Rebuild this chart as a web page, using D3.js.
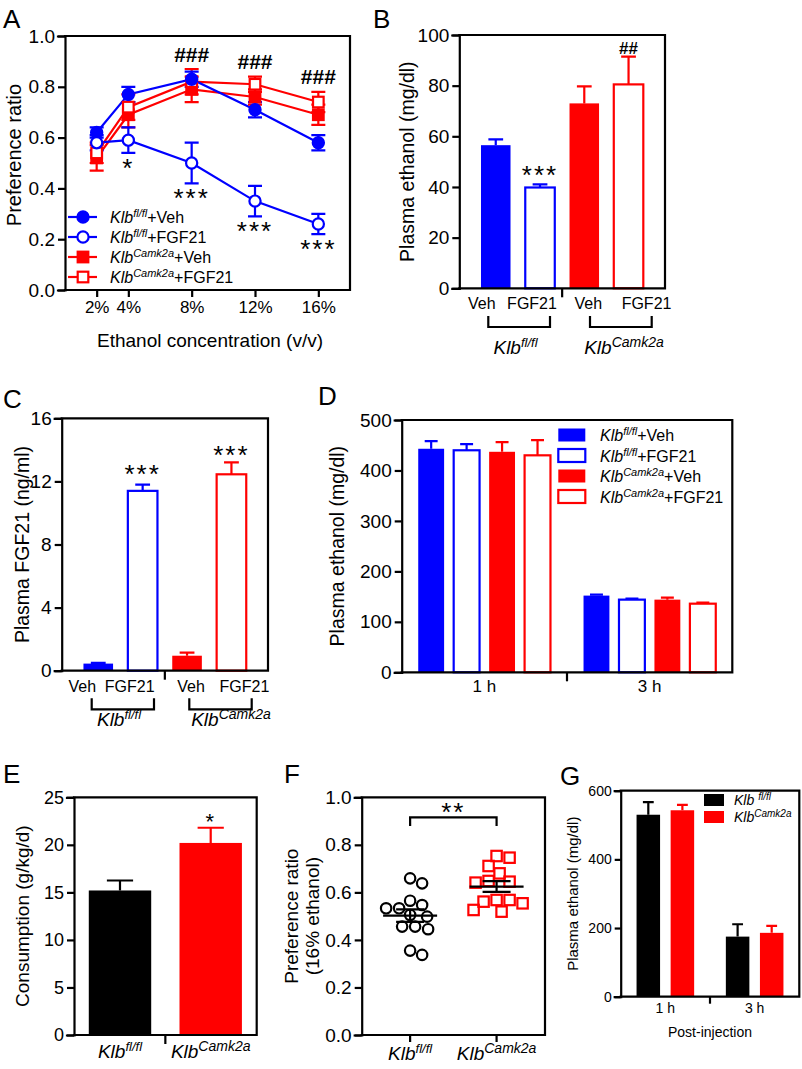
<!DOCTYPE html>
<html><head><meta charset="utf-8">
<script src="https://cdn.jsdelivr.net/npm/d3@7"></script>
<style>
body{margin:0;background:#fff}
svg{display:block;font-family:"Liberation Sans",Arial,Helvetica,sans-serif}
</style></head><body><svg id="fig" width="802" height="1069"></svg>
<script>
// ---------------- DATA ----------------
// Panel A
const concentrations = [2, 4, 8, 12, 16];
const concTickLabels = ["2%", "4%", "8%", "12%", "16%"];
const prefFlVeh = [0.62, 0.77, 0.83, 0.71, 0.58];
const prefFlVehErr = [0.02, 0.03, 0.03, 0.03, 0.03];
const prefFlFgf = [0.58, 0.59, 0.50, 0.35, 0.26];
const prefFlFgfErr = [0.03, 0.05, 0.08, 0.06, 0.04];
const prefCaVeh = [0.52, 0.69, 0.79, 0.76, 0.69];
const prefCaVehErr = [0.05, 0.05, 0.05, 0.03, 0.04];
const prefCaFgf = [0.54, 0.72, 0.82, 0.81, 0.74];
const prefCaFgfErr = [0.04, 0.05, 0.05, 0.03, 0.04];
const prefStars = ["", "*", "***", "***", "***"];
const prefHashes = ["", "", "###", "###", "###"];
const prefYTicks = [0, 0.2, 0.4, 0.6, 0.8, 1.0];
// Panel B
const treatments = ["Veh", "FGF21", "Veh", "FGF21"];
const plasmaEtoh = [56.5, 39.8, 73.0, 80.5];
const plasmaEtohErr = [2.3, 1.2, 6.7, 11.0];
const plasmaEtohSig = ["", "***", "", "##"];
const plasmaEtohTicks = [0, 20, 40, 60, 80, 100];
// Panel C
const plasmaFgf21 = [0.45, 11.4, 0.95, 12.45];
const plasmaFgf21Err = [0.05, 0.4, 0.2, 0.75];
const plasmaFgf21Sig = ["", "***", "", "***"];
const plasmaFgf21Ticks = [0, 4, 8, 12, 16];
// Panel D
const timepoints = ["1 h", "3 h"];
const etohFlVeh = [443, 152];
const etohFlVehErr = [15, 2];
const etohFlFgf = [440, 144];
const etohFlFgfErr = [12, 2];
const etohCaVeh = [437, 144];
const etohCaVehErr = [19, 4];
const etohCaFgf = [430, 136];
const etohCaFgfErr = [30, 2];
const etohDTicks = [0, 100, 200, 300, 400, 500];
// Panel E
const genotypes = ["fl/fl", "Camk2a"];
const consumption = [15.2, 20.2];
const consumptionErr = [1.05, 1.6];
const consumptionSig = ["", "*"];
const consumptionTicks = [0, 5, 10, 15, 20, 25];
// Panel F
const pref16Fl = [0.659, 0.638, 0.565, 0.533, 0.533, 0.547, 0.505, 0.498, 0.456, 0.445, 0.456, 0.337, 0.355];
const pref16Ca = [0.753, 0.746, 0.711, 0.680, 0.645, 0.641, 0.648, 0.568, 0.554, 0.519, 0.526, 0.561, 0.568];
const pref16Ticks = [0, 0.2, 0.4, 0.6, 0.8, 1.0];
// Panel G
const etohGFl = [530, 175];
const etohGFlErr = [37, 36];
const etohGCa = [543, 186];
const etohGCaErr = [16, 20];
const etohGTicks = [0, 200, 400, 600];

// ---------------- HELPERS ----------------
const BLUE = "#0000ff", RED = "#ff0000", BLACK = "#000000";
const AX = 2.2;
const svg = d3.select("#fig");
svg.append("rect").attr("width", 802).attr("height", 1069).attr("fill", "#fff");

function yAxis(g, y, x0, ticks, fmt, fs, tl = 7) {
  const a = g.append("g").attr("transform", `translate(${x0},0)`)
    .call(d3.axisLeft(y).tickValues(ticks).tickFormat(fmt).tickSizeOuter(0).tickSize(tl).tickPadding(3));
  a.attr("font-family", null).attr("font-size", null);
  a.select(".domain").attr("stroke", "#000").attr("stroke-width", AX).attr("stroke-linecap", "square");
  a.selectAll(".tick line").attr("stroke", "#000").attr("stroke-width", AX);
  a.selectAll(".tick text").attr("fill", "#000").style("font-size", fs + "px");
  return a;
}
function frame(g, x0, x1, y0, y1) {
  g.append("path").attr("d", `M${x0},${y1}H${x1}V${y0}H${x0}`)
    .attr("fill", "none").attr("stroke", "#000").attr("stroke-width", AX).attr("stroke-linecap", "square");
}
function vtick(g, x, y, len) {
  g.append("line").attr("x1", x).attr("x2", x).attr("y1", y).attr("y2", y + len)
    .attr("stroke", "#000").attr("stroke-width", AX);
}
function panelLabel(x, y, t) {
  svg.append("text").attr("x", x).attr("y", y).style("font-size", "26px").text(t);
}
function yTitle(g, x, y, t, fs) {
  g.append("text").attr("transform", `translate(${x},${y}) rotate(-90)`)
    .attr("text-anchor", "middle").attr("dy", "0.35em").style("font-size", fs + "px").text(t);
}
function gene(g, x, y, o) {
  const t = g.append("text").attr("x", x).attr("y", y)
    .attr("text-anchor", o.anchor || "start").style("font-size", o.fs + "px");
  t.append("tspan").style("font-style", "italic").text("Klb" + (o.space ? " " : ""));
  const sh = Math.round(o.fs * 0.38);
  t.append("tspan").style("font-style", "italic").style("font-size", o.sfs + "px").attr("dy", -sh).text(o.sup);
  if (o.suffix) t.append("tspan").attr("dy", sh).text(o.suffix);
  return t;
}
function errUp(g, xc, y1, y2, capW, color) {
  g.append("path").attr("d", `M${xc},${y1}V${y2}M${xc - capW / 2},${y2}H${xc + capW / 2}`)
    .attr("fill", "none").attr("stroke", color).attr("stroke-width", AX);
}
function bar(g, x, w, y0, y1, color, filled) {
  g.append("rect").attr("x", x).attr("width", w).attr("y", y1).attr("height", y0 - y1)
    .attr("fill", filled ? color : "#fff").attr("stroke", filled ? "none" : color).attr("stroke-width", AX);
}
function sig(g, x, yc, t, fs, bold) {
  const hash = t.indexOf("#") >= 0;
  g.append("text").attr("x", x).attr("y", yc).attr("text-anchor", "middle")
    .attr("dy", hash ? "0.36em" : (0.58 * fs) + "px")
    .style("font-size", fs + "px").style("font-weight", bold ? "bold" : "normal")
    .style("letter-spacing", hash ? "0px" : "2px").text(t);
}
function marker(g, shape, filled, color, x, y) {
  if (shape === "circle") {
    g.append("circle").attr("cx", x).attr("cy", y).attr("r", 5.6)
      .attr("fill", filled ? color : "#fff").attr("stroke", color).attr("stroke-width", AX);
  } else {
    g.append("rect").attr("x", x - 5.3).attr("y", y - 5.3).attr("width", 10.6).attr("height", 10.6)
      .attr("fill", filled ? color : "#fff").attr("stroke", color).attr("stroke-width", AX);
  }
}

// ---------------- PANEL A ----------------
(function () {
  const g = svg.append("g");
  const x = d3.scaleLinear([0, 18], [65, 350]);
  const y = d3.scaleLinear([0, 1], [290, 36]);
  frame(g, 65, 350, 36, 290);
  yAxis(g, y, 65, prefYTicks, d3.format(".1f"), 19);
  const xa = g.append("g").attr("transform", "translate(0,290)")
    .call(d3.axisBottom(x).tickValues(concentrations).tickFormat((d, i) => concTickLabels[i]).tickSize(7).tickSizeOuter(0).tickPadding(4));
  xa.attr("font-family", null).attr("font-size", null);
  xa.select(".domain").remove();
  xa.selectAll(".tick line").attr("stroke", "#000").attr("stroke-width", AX);
  xa.selectAll(".tick text").attr("fill", "#000").style("font-size", "17px");
  g.append("text").attr("x", 210).attr("y", 347).attr("text-anchor", "middle").style("font-size", "19px")
    .text("Ethanol concentration (v/v)");
  yTitle(g, 14, 155, "Preference ratio", 20);

  const series = [
    { v: prefCaVeh, e: prefCaVehErr, c: RED, s: "square", f: true },
    { v: prefCaFgf, e: prefCaFgfErr, c: RED, s: "square", f: false },
    { v: prefFlVeh, e: prefFlVehErr, c: BLUE, s: "circle", f: true },
    { v: prefFlFgf, e: prefFlFgfErr, c: BLUE, s: "circle", f: false }
  ];
  const line = d3.line().x((d, i) => x(concentrations[i])).y(d => y(d));
  series.forEach(s => {
    g.append("path").attr("d", line(s.v)).attr("fill", "none").attr("stroke", s.c).attr("stroke-width", AX);
  });
  series.forEach(s => {
    s.v.forEach((v, i) => {
      const cx = x(concentrations[i]);
      g.append("path").attr("d", `M${cx},${y(v - s.e[i])}V${y(v + s.e[i])}M${cx - 7},${y(v - s.e[i])}H${cx + 7}M${cx - 7},${y(v + s.e[i])}H${cx + 7}`)
        .attr("fill", "none").attr("stroke", s.c).attr("stroke-width", AX);
    });
  });
  series.forEach(s => s.v.forEach((v, i) => marker(g, s.s, s.f, s.c, x(concentrations[i]), y(v))));

  // significance
  concentrations.forEach((c, i) => {
    if (prefStars[i]) sig(g, x(c), y(prefFlFgf[i] - prefFlFgfErr[i]) + 9, prefStars[i], 26, false);
    if (prefHashes[i]) {
      const top = d3.max(series, s => s.v[i] + s.e[i]);
      sig(g, x(c), y(top) - 15, prefHashes[i], 21, true);
    }
  });

  // legend
  const leg = [
    { c: BLUE, s: "circle", f: true, sup: "fl/fl", suf: "+Veh" },
    { c: BLUE, s: "circle", f: false, sup: "fl/fl", suf: "+FGF21" },
    { c: RED, s: "square", f: true, sup: "Camk2a", suf: "+Veh" },
    { c: RED, s: "square", f: false, sup: "Camk2a", suf: "+FGF21" }
  ];
  leg.forEach((l, i) => {
    const yy = 217 + i * 20;
    g.append("line").attr("x1", 68).attr("x2", 97).attr("y1", yy).attr("y2", yy).attr("stroke", l.c).attr("stroke-width", AX);
    marker(g, l.s, l.f, l.c, 83, yy);
    gene(g, 110, yy + 6, { sup: l.sup, suffix: l.suf, fs: 16, sfs: 11 });
  });
  panelLabel(3, 28, "A");
})();

// ---------------- PANEL B & C (4 bars, grouped labels) ----------------
function fourBar(cfg) {
  const g = svg.append("g");
  const x = d3.scaleBand([0, 1, 2, 3], [cfg.x0, cfg.x1]).paddingInner(0.333).paddingOuter(0.49);
  const y = d3.scaleLinear(cfg.dom, [cfg.yb, cfg.yt]);
  const cols = [BLUE, BLUE, RED, RED], fills = [true, false, true, false];
  cfg.vals.forEach((v, i) => {
    bar(g, x(i), x.bandwidth(), y(0), y(v), cols[i], fills[i]);
    errUp(g, x(i) + x.bandwidth() / 2, y(v), y(v + cfg.err[i]), x.bandwidth() * 0.5, cols[i]);
    if (cfg.sig[i]) sig(g, x(i) + x.bandwidth() / 2, y(v + cfg.err[i]) - cfg.sigGap[i], cfg.sig[i], cfg.sig[i][0] === "#" ? 17 : 26, cfg.sig[i][0] === "#");
  });
  frame(g, cfg.x0, cfg.x1, cfg.yt, cfg.yb);
  yAxis(g, y, cfg.x0, cfg.ticks, d3.format("d"), 19);
  vtick(g, (cfg.x0 + cfg.x1) / 2, cfg.yb, 9);
  treatments.forEach((t, i) => {
    g.append("text").attr("x", x(i) + x.bandwidth() / 2 + cfg.labOff[i]).attr("y", cfg.yb + 21)
      .attr("text-anchor", "middle").style("font-size", "16px").text(t);
  });
  cfg.brackets.forEach((b, i) => {
    g.append("path").attr("d", `M${b[0]},${cfg.brY}V${cfg.brY + 11}H${b[1]}V${cfg.brY}`)
      .attr("fill", "none").attr("stroke", "#000").attr("stroke-width", AX);
    gene(g, cfg.gx[i], cfg.gy, { sup: i === 0 ? "fl/fl" : "Camk2a", fs: 19, sfs: i === 0 ? 13 : 14, anchor: "middle" });
  });
  yTitle(g, cfg.titleX, (cfg.yt + cfg.yb) / 2, cfg.title, 19.5);
}
fourBar({ x0: 459.3, x1: 665, yt: 35, yb: 288.3, dom: [0, 100], ticks: plasmaEtohTicks,
  vals: plasmaEtoh, err: plasmaEtohErr, sig: plasmaEtohSig, sigGap: [0, 16, 0, 9],
  labOff: [-14, -8, 4, 18], brackets: [[488.3, 550], [590, 651.7]], brY: 316,
  gx: [515.5, 624], gy: 354, titleX: 407, title: "Plasma ethanol (mg/dl)" });
panelLabel(373, 28, "B");
fourBar({ x0: 61.7, x1: 268, yt: 418.3, yb: 670.7, dom: [0, 16], ticks: plasmaFgf21Ticks,
  vals: plasmaFgf21, err: plasmaFgf21Err, sig: plasmaFgf21Sig, sigGap: [0, 17, 0, 14],
  labOff: [-16, -13, 4, 13], brackets: [[91.7, 154], [189.3, 251.7]], brY: 698.3,
  gx: [119, 231], gy: 726, titleX: 22, title: "Plasma FGF21 (ng/ml)" });
panelLabel(3, 408, "C");

// ---------------- PANEL D ----------------
(function () {
  const g = svg.append("g");
  const x0 = 401.7, x1 = 732.3, yt = 420, yb = 672.3;
  const gx = d3.scaleBand(timepoints, [x0, x1]).paddingInner(0.2).paddingOuter(0.1);
  const series = [
    { v: etohFlVeh, e: etohFlVehErr, c: BLUE, f: true, sup: "fl/fl", suf: "+Veh" },
    { v: etohFlFgf, e: etohFlFgfErr, c: BLUE, f: false, sup: "fl/fl", suf: "+FGF21" },
    { v: etohCaVeh, e: etohCaVehErr, c: RED, f: true, sup: "Camk2a", suf: "+Veh" },
    { v: etohCaFgf, e: etohCaFgfErr, c: RED, f: false, sup: "Camk2a", suf: "+FGF21" }
  ];
  const sx = d3.scaleBand(d3.range(4), [0, gx.bandwidth()]).paddingInner(0.27);
  const y = d3.scaleLinear([0, 500], [yb, yt]);
  timepoints.forEach((t, ti) => {
    series.forEach((s, si) => {
      const bx = gx(t) + sx(si);
      bar(g, bx, sx.bandwidth(), y(0), y(s.v[ti]), s.c, s.f);
      errUp(g, bx + sx.bandwidth() / 2, y(s.v[ti]), y(s.v[ti] + s.e[ti]), sx.bandwidth() * 0.5, s.c);
    });
    g.append("text").attr("x", gx(t) + gx.bandwidth() / 2).attr("y", yb + 20).attr("text-anchor", "middle")
      .style("font-size", "17px").text(t);
  });
  frame(g, x0, x1, yt, yb);
  yAxis(g, y, x0, etohDTicks, d3.format("d"), 19);
  vtick(g, (x0 + x1) / 2, yb, 9);
  yTitle(g, 337, (yt + yb) / 2, "Plasma ethanol (mg/dl)", 19.5);
  series.forEach((s, i) => {
    const yy = 435 + i * 20.5;
    g.append("rect").attr("x", 558.3).attr("y", yy - 6.5).attr("width", 27).attr("height", 13)
      .attr("fill", s.f ? s.c : "#fff").attr("stroke", s.f ? "none" : s.c).attr("stroke-width", AX);
    gene(g, 600, yy + 6, { sup: s.sup, suffix: s.suf, fs: 16, sfs: 11 });
  });
  panelLabel(318, 405, "D");
})();

// ---------------- PANEL E ----------------
(function () {
  const g = svg.append("g");
  const x0 = 74, x1 = 256.7, yt = 797.3, yb = 1035;
  const x = d3.scaleBand(genotypes, [x0, x1]).paddingInner(0.312).paddingOuter(0.163);
  const y = d3.scaleLinear([0, 25], [yb, yt]);
  const cols = [BLACK, RED];
  genotypes.forEach((gt, i) => {
    bar(g, x(gt), x.bandwidth(), y(0), y(consumption[i]), cols[i], true);
    errUp(g, x(gt) + x.bandwidth() / 2, y(consumption[i]), y(consumption[i] + consumptionErr[i]), x.bandwidth() * 0.42, cols[i]);
    if (consumptionSig[i]) sig(g, x(gt) + x.bandwidth() / 2, y(consumption[i] + consumptionErr[i]) - 11, consumptionSig[i], 22, false);
    gene(g, x(gt) + x.bandwidth() / 2, 1058, { sup: gt, fs: 19, sfs: i === 0 ? 13 : 14, anchor: "middle" });
  });
  frame(g, x0, x1, yt, yb);
  yAxis(g, y, x0, consumptionTicks, d3.format("d"), 18);
  vtick(g, (x0 + x1) / 2, yb, 9);
  yTitle(g, 22, (yt + yb) / 2, "Consumption (g/kg/d)", 19);
  panelLabel(3, 783, "E");
})();

// ---------------- PANEL F ----------------
(function () {
  const g = svg.append("g");
  const x0 = 361.7, x1 = 545, yt = 797.3, yb = 1035;
  const x = d3.scalePoint(genotypes, [x0, x1]).padding(0.56);
  const y = d3.scaleLinear([0, 1], [yb, yt]);
  frame(g, x0, x1, yt, yb);
  yAxis(g, y, x0, pref16Ticks, d3.format(".1f"), 19);
  genotypes.forEach((gt, i) => {
    vtick(g, x(gt), yb, 7);
    gene(g, x(gt), 1060, { sup: gt, fs: 19, sfs: i === 0 ? 13 : 14, anchor: "middle" });
  });
  const r = 5.2;
  function swarm(vals, cx) {
    const pts = vals.map(v => ({ v, py: y(v) })).sort((a, b) => a.py - b.py);
    const placed = [];
    pts.forEach(p => {
      for (let k = 0; k < 400; k++) {
        const off = (k % 2 ? 1 : -1) * Math.ceil(k / 2);
        if (placed.every(q => Math.hypot(q.x - (cx + off), q.py - p.py) >= 2 * r + 2.2)) { p.x = cx + off; break; }
      }
      placed.push(p);
    });
    return placed;
  }
  const groups = [{ vals: pref16Fl, c: BLACK, s: "circle" }, { vals: pref16Ca, c: RED, s: "square" }];
  groups.forEach((gr, i) => {
    const cx = x(genotypes[i]);
    swarm(gr.vals, cx).forEach(p => {
      if (gr.s === "circle") g.append("circle").attr("cx", p.x).attr("cy", p.py).attr("r", r).attr("fill", "none").attr("stroke", gr.c).attr("stroke-width", AX);
      else g.append("rect").attr("x", p.x - r).attr("y", p.py - r).attr("width", 2 * r).attr("height", 2 * r).attr("fill", "none").attr("stroke", gr.c).attr("stroke-width", AX);
    });
    const m = d3.mean(gr.vals), se = d3.deviation(gr.vals) / Math.sqrt(gr.vals.length);
    g.append("path").attr("d", `M${cx - 27},${y(m)}H${cx + 27}M${cx - 14},${y(m + se)}H${cx + 14}M${cx - 14},${y(m - se)}H${cx + 14}M${cx},${y(m + se)}V${y(m - se)}`)
      .attr("fill", "none").attr("stroke", "#000").attr("stroke-width", AX);
  });
  const xa = x(genotypes[0]), xb = x(genotypes[1]);
  g.append("path").attr("d", `M${xa},826V817.3H${xb}V826`).attr("fill", "none").attr("stroke", "#000").attr("stroke-width", AX);
  sig(g, (xa + xb) / 2, 806, "**", 26, false);
  g.append("text").attr("transform", `translate(291,${(yt + yb) / 2}) rotate(-90)`).attr("text-anchor", "middle")
    .attr("dy", "0.35em").style("font-size", "19px").text("Preference ratio");
  g.append("text").attr("transform", `translate(312,${(yt + yb) / 2}) rotate(-90)`).attr("text-anchor", "middle")
    .attr("dy", "0.35em").style("font-size", "19px").text("(16% ethanol)");
  panelLabel(284, 783, "F");
})();

// ---------------- PANEL G ----------------
(function () {
  const g = svg.append("g");
  const x0 = 620.7, x1 = 799.3, yt = 790.7, yb = 996.7;
  const gx = d3.scaleBand(timepoints, [x0, x1]).paddingInner(0.355).paddingOuter(0.1775);
  const sx = d3.scaleBand([0, 1], [0, gx.bandwidth()]).paddingInner(0.31);
  const y = d3.scaleLinear([0, 600], [yb, yt]);
  const series = [
    { v: etohGFl, e: etohGFlErr, c: BLACK, sup: "fl/fl", space: true },
    { v: etohGCa, e: etohGCaErr, c: RED, sup: "Camk2a", space: false }
  ];
  timepoints.forEach((t, ti) => {
    series.forEach((s, si) => {
      const bx = gx(t) + sx(si);
      bar(g, bx, sx.bandwidth(), y(0), y(s.v[ti]), s.c, true);
      errUp(g, bx + sx.bandwidth() / 2, y(s.v[ti]), y(s.v[ti] + s.e[ti]), sx.bandwidth() * 0.46, s.c);
    });
    g.append("text").attr("x", gx(t) + gx.bandwidth() / 2).attr("y", yb + 16).attr("text-anchor", "middle")
      .style("font-size", "14px").text(t);
  });
  frame(g, x0, x1, yt, yb);
  yAxis(g, y, x0, etohGTicks, d3.format("d"), 14, 6);
  vtick(g, (x0 + x1) / 2, yb, 7);
  g.append("text").attr("x", (x0 + x1) / 2).attr("y", 1037).attr("text-anchor", "middle").style("font-size", "14px").text("Post-injection");
  yTitle(g, 573, (yt + yb) / 2, "Plasma ethanol (mg/dl)", 15);
  series.forEach((s, i) => {
    const yy = 800 + i * 17;
    g.append("rect").attr("x", 704).attr("y", yy - 6).attr("width", 20).attr("height", 12).attr("fill", s.c);
    gene(g, 734, yy + 5, { sup: s.sup, fs: 14, sfs: 10, space: s.space });
  });
  panelLabel(560, 785, "G");
})();
</script></body></html>
